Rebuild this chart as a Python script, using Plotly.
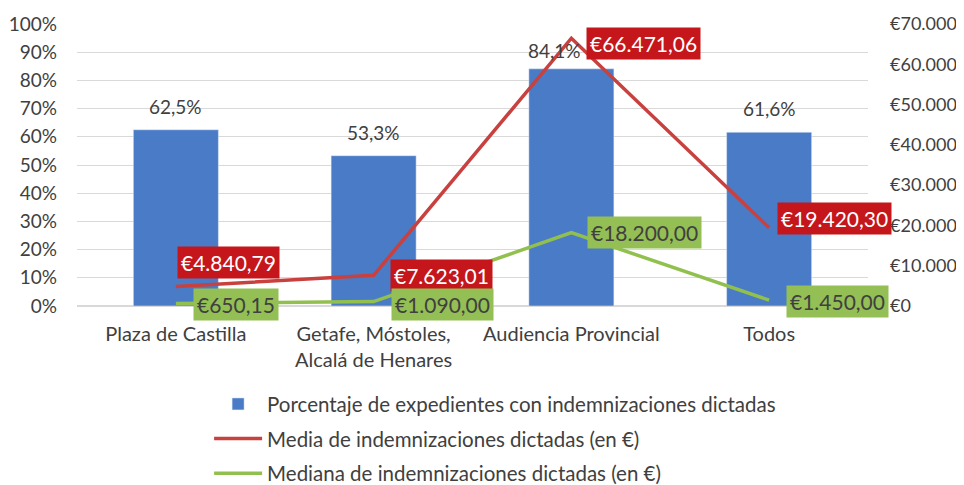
import plotly.graph_objects as go

categories = ["Plaza de Castilla", "Getafe, Móstoles,<br>Alcalá de Henares", "Audiencia Provincial", "Todos"]
pct_values = [62.5, 53.3, 84.1, 61.6]
pct_labels = ["62,5%", "53,3%", "84,1%", "61,6%"]
media_values = [4840.79, 7623.01, 66471.06, 19420.30]
media_labels = ["€4.840,79", "€7.623,01", "€66.471,06", "€19.420,30"]
mediana_values = [650.15, 1090.00, 18200.00, 1450.00]
mediana_labels = ["€650,15", "€1.090,00", "€18.200,00", "€1.450,00"]
left_ticks = [0, 10, 20, 30, 40, 50, 60, 70, 80, 90, 100]
left_ticktext = [f"{v}%" for v in left_ticks]
right_ticks = [0, 10000, 20000, 30000, 40000, 50000, 60000, 70000]
right_ticktext = ["€0", "€10.000", "€20.000", "€30.000", "€40.000", "€50.000", "€60.000", "€70.000"]
series_names = ["Porcentaje de expedientes con indemnizaciones dictadas",
                "Media de indemnizaciones dictadas (en €)",
                "Mediana de indemnizaciones dictadas (en €)"]

# label offsets (px) for the value labels
pct_shift = [(0, 23), (0, 23), (-17, 18), (0, 24)]
media_shift = [(1, 24), (16, 0), (15, -5), (8, 9)]
mediana_shift = [(17, -1), (17, -3), (16, 0), (17, -1)]

BLUE = "#4A7BC6"
RED_LINE = "#C8413F"
RED_BOX = "#C5161B"
GREEN_LINE = "#92C04E"
GREEN_BOX = "#93BF55"
TXT = "#404040"
FONT = "Lato"

fig = go.Figure()
fig.add_trace(go.Bar(x=categories, y=pct_values, name=series_names[0], marker_color=BLUE,
                     width=0.43, legendgroup="a", yaxis="y"))
fig.add_trace(go.Scatter(x=categories, y=media_values, name=series_names[1], mode="lines",
                         line=dict(color=RED_LINE, width=3.5), legendgroup="b", yaxis="y2"))
fig.add_trace(go.Scatter(x=categories, y=mediana_values, name=series_names[2], mode="lines",
                         line=dict(color=GREEN_LINE, width=3.5), legendgroup="c", yaxis="y2"))

ann = []
for c, v, t, (dx, dy) in zip(categories, pct_values, pct_labels, pct_shift):
    ann.append(dict(x=c, y=v, xref="x", yref="y", text=t, showarrow=False,
                    yanchor="middle", xshift=dx, yshift=dy,
                    font=dict(family=FONT, size=19, color=TXT)))
for c, v, t, (dx, dy) in zip(categories, media_values, media_labels, media_shift):
    ann.append(dict(x=c, y=v, xref="x", yref="y2", text=t, showarrow=False,
                    xanchor="left", yanchor="middle", xshift=dx, yshift=dy,
                    bgcolor=RED_BOX, borderpad=3,
                    font=dict(family=FONT, size=21, color="white")))
for c, v, t, (dx, dy) in zip(categories, mediana_values, mediana_labels, mediana_shift):
    ann.append(dict(x=c, y=v, xref="x", yref="y2", text=t, showarrow=False,
                    xanchor="left", yanchor="middle", xshift=dx, yshift=dy,
                    bgcolor=GREEN_BOX, borderpad=3,
                    font=dict(family=FONT, size=21, color=TXT)))

fig.update_layout(
    width=956, height=477,
    margin=dict(l=69, r=96, t=16, b=179, autoexpand=False),
    paper_bgcolor="white", plot_bgcolor="white",
    font=dict(family=FONT, size=19, color=TXT),
    showlegend=True,
    legend=dict(x=0.167, xanchor="left", y=-0.277, yanchor="top", orientation="v",
                font=dict(family=FONT, size=20.5, color=TXT), tracegroupgap=5,
                itemwidth=48, bgcolor="rgba(0,0,0,0)"),
    xaxis=dict(type="category", range=[-0.5, 3.5], showgrid=False, showline=False, ticks="",
               ticklabelstandoff=14, tickfont=dict(family=FONT, size=20, color=TXT)),
    yaxis=dict(range=[0, 100], tickvals=left_ticks, ticktext=left_ticktext,
               showgrid=True, gridcolor="#D9D9D9", gridwidth=1, zeroline=True,
               zerolinecolor="#D9D9D9", showline=False, ticklabelstandoff=19,
               tickfont=dict(family=FONT, size=19, color=TXT)),
    yaxis2=dict(range=[0, 70000], overlaying="y", side="right", tickvals=right_ticks,
                ticktext=right_ticktext, showgrid=False, zeroline=False, showline=False,
                ticklabelstandoff=21, tickfont=dict(family=FONT, size=18, color=TXT)),
    annotations=ann,
)

fig.write_html("out.html")
